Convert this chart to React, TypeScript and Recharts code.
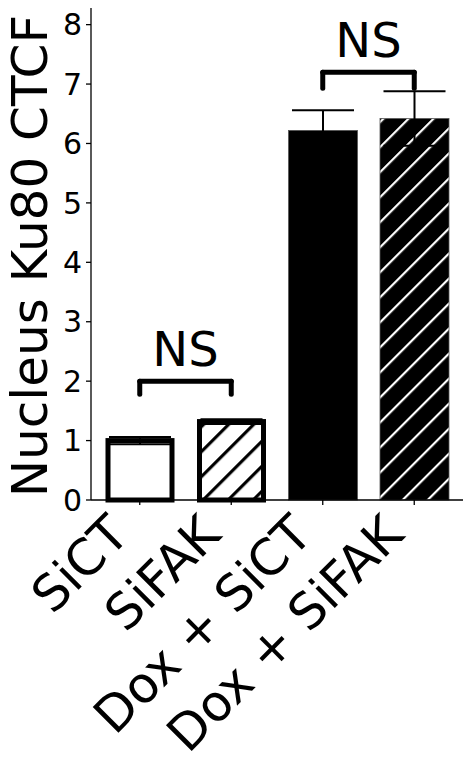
import React from 'react';
import { BarChart, Bar, XAxis, YAxis, ErrorBar, ReferenceLine, Label } from 'recharts';

const categories = ['SiCT', 'SiFAK', 'Dox + SiCT', 'Dox + SiFAK'];
const means = [1.0, 1.32, 6.22, 6.42];
const errors = [0.06, 0.04, 0.34, 0.46];
const yTicks = [0, 1, 2, 3, 4, 5, 6, 7, 8];
const fills = ['white', 'url(#hatchBW)', 'black', 'url(#hatchWB)'];
const outlined = [true, true, false, false];
const bracketPairs = [
  { from: 'SiCT', to: 'SiFAK', top: 2.0, leg: 1.78, text: 'NS' },
  { from: 'Dox + SiCT', to: 'Dox + SiFAK', top: 7.2, leg: 6.93, text: 'NS' },
];

const data = categories.map((c, i) => ({ name: c, value: means[i], err: errors[i] }));

const FONT = 'DejaVu Sans';

const BarShape = (props: any) => {
  const { x, y, width, height } = props;
  let i = props.index;
  if (i === undefined || i === null) i = categories.indexOf(props.payload?.name ?? props.name);
  if (outlined[i]) {
    return <rect x={x} y={y} width={width} height={height} fill={fills[i]} stroke="black" strokeWidth={5} />;
  }
  return <rect x={x - 2.5} y={y} width={width + 5} height={height} fill={fills[i]} stroke="#555" strokeWidth={0.8} />;
};

const XTick = (props: any) => {
  const { x, y, payload } = props;
  const ex = x - 8.5;
  const ey = y + 27;
  return (
    <text x={ex} y={ey} transform={`rotate(-45 ${ex} ${ey})`} textAnchor="end" fontSize={50} fontFamily={FONT} fill="black">
      {payload.value}
    </text>
  );
};

const YLabel = (props: any) => {
  const vb = props.viewBox || { x: 0, y: 8, width: 91, height: 492 };
  const lx = vb.x + 47;
  const ly = vb.y + vb.height / 2 + 2;
  return (
    <text x={lx} y={ly} transform={`rotate(-90 ${lx} ${ly})`} textAnchor="middle" fontSize={50} fontFamily={FONT} fill="black">
      Nucleus Ku80 CTCF
    </text>
  );
};

export default function App() {
  return (
    <div style={{ position: 'absolute', left: 0, top: 0 }}>
      <svg width={0} height={0} style={{ position: 'absolute' }}>
        <defs>
          <pattern id="hatchBW" width={17.7} height={17.7} patternUnits="userSpaceOnUse" patternTransform="rotate(45)">
            <rect x={0} y={0} width={17.7} height={17.7} fill="white" />
            <rect x={0} y={0} width={3.2} height={17.7} fill="black" />
          </pattern>
          <pattern id="hatchWB" width={17.7} height={17.7} patternUnits="userSpaceOnUse" patternTransform="rotate(45)">
            <rect x={0} y={0} width={17.7} height={17.7} fill="black" />
            <rect x={0} y={0} width={2.2} height={17.7} fill="white" />
          </pattern>
        </defs>
      </svg>
      <BarChart
        width={471}
        height={774}
        data={data}
        margin={{ top: 8, right: 8, bottom: 0, left: 0 }}
        style={{ fontFamily: FONT }}
      >
        <XAxis
          dataKey="name"
          type="category"
          height={274}
          padding={{ left: 3, right: 3 }}
          tick={<XTick />}
          tickSize={5}
          tickMargin={5}
          interval={0}
          axisLine={{ stroke: 'black', strokeWidth: 1.3 }}
          tickLine={{ stroke: 'black', strokeWidth: 1.3 }}
        />
        <YAxis
          type="number"
          domain={[0, 8.28]}
          ticks={yTicks}
          width={91}
          tickSize={5}
          tickMargin={4}
          tick={{ fontSize: 30, fill: 'black', fontFamily: FONT }}
          axisLine={{ stroke: 'black', strokeWidth: 1.3 }}
          tickLine={{ stroke: 'black', strokeWidth: 1.3 }}
        >
          <Label content={<YLabel />} />
        </YAxis>
        <Bar dataKey="value" barSize={64} isAnimationActive={false} shape={<BarShape />}>
          <ErrorBar dataKey="err" width={31} strokeWidth={2} stroke="black" direction="y" isAnimationActive={false} />
        </Bar>
        {bracketPairs.map((b, k) => (
          <ReferenceLine
            key={`h${k}`}
            segment={[{ x: b.from, y: b.top }, { x: b.to, y: b.top }]}
            stroke="black"
            strokeWidth={5}
            strokeLinecap="round"
            label={{ value: b.text, position: 'top', offset: 15, fontSize: 48, fill: 'black', fontFamily: FONT }}
          />
        ))}
        {bracketPairs.map((b, k) => (
          <ReferenceLine
            key={`l${k}`}
            segment={[{ x: b.from, y: b.leg }, { x: b.from, y: b.top }]}
            stroke="black"
            strokeWidth={5}
            strokeLinecap="round"
          />
        ))}
        {bracketPairs.map((b, k) => (
          <ReferenceLine
            key={`r${k}`}
            segment={[{ x: b.to, y: b.leg }, { x: b.to, y: b.top }]}
            stroke="black"
            strokeWidth={5}
            strokeLinecap="round"
          />
        ))}
      </BarChart>
    </div>
  );
}
